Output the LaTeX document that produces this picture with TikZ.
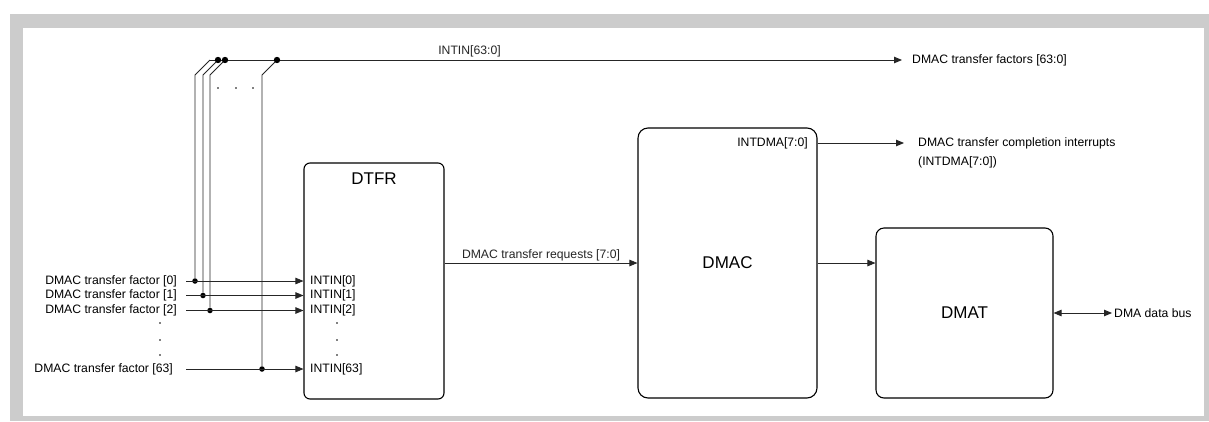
\documentclass[tikz,border=0pt]{standalone}
\usepackage{fontspec}
\setmainfont{Liberation Sans}
\usetikzlibrary{arrows.meta,positioning,calc}
\newcommand{\smallfs}{\fontsize{12.2}{14}\selectfont}
\newcommand{\bigfs}{\fontsize{17}{20}\selectfont}

\begin{document}
\begin{tikzpicture}[x=1pt,y=-1pt,>={Triangle[length=8pt,width=6.5pt]},
  blk/.style={draw,line width=1.1pt,inner sep=0pt},
  txt/.style={font=\smallfs,inner sep=0pt},
  wire/.style={line width=0.85pt,black!85},
  jdot/.style={circle,fill=black,inner sep=0pt,minimum size=5.5pt}]
  \useasboundingbox (0,0) rectangle (1209,421);
  \fill[black!20] (10,14) rectangle (1209,421);
  \fill[white] (23,28) rectangle (1204,416);
  % blocks
  \node[blk,rounded corners=6pt,minimum width=140pt,minimum height=236pt] (dtfr) at (374,281) {};
  \node[blk,rounded corners=10pt,minimum width=179pt,minimum height=270pt] (dmac) at (727.5,263) {};
  \node[blk,rounded corners=8pt,minimum width=177pt,minimum height=170pt] (dmat) at (964.5,313) {};
  \node[font=\bigfs,inner sep=0pt,below=10pt of dtfr.north] (dtfrlbl) {DTFR};
  \node[font=\bigfs,inner sep=0pt] (dmaclbl) at (dmac) {DMAC};
  \node[font=\bigfs,inner sep=0pt] (dmatlbl) at (dmat) {DMAT};
  % transfer factor inputs
  \node[txt,anchor=west] (fac) at (912,60) {DMAC transfer factors [63:0]};
  \coordinate (busL) at (210,60);
  \draw[wire,->] (busL) -- node[txt,pos=0.375,above=3pt] (buslbl) {INTIN[63:0]} ([xshift=-10pt]fac.west);
  \foreach \i/\y/\x/\e in {0/281/195/177,1/295.5/203/177,2/310.5/210/177,63/369/262/173}{
    \node[txt,anchor=east] (f\i) at (\e,\y) {DMAC transfer factor [\i]};
    \node[txt,anchor=west] (in\i) at (310,\y) {INTIN[\i]};
    \coordinate (s\i) at (186,\y);
    \node[jdot] (j\i) at (\x,\y) {};
    \draw[wire,->] (s\i) -- (in\i.west -| dtfr.west);
    \draw[wire] (j\i) -- (\x,75) -- (\x+15,60);
  }
  \foreach \x in {218,225,277}
    \fill (\x,60) circle (3.2pt);
  \foreach \y in {323,340,355}{
    \fill (160,\y) circle (0.9pt);
    \fill (337,\y) circle (0.9pt);
  }
  \foreach \x in {218,236,253}
    \fill (\x,88) circle (0.9pt);
  % requests and outputs
  \draw[wire,->] (dtfr.east |- dmac.west) -- node[txt,above=1.5pt] (reqlbl) {DMAC transfer requests [7:0]} (dmac.west);
  \node[txt,anchor=east] (intdma) at (808,143) {INTDMA[7:0]};
  \node[txt,anchor=west] (cmp) at (918,143) {DMAC transfer completion interrupts};
  \node[txt,anchor=west] (cmpb) at (918,162) {(INTDMA[7:0])};
  \draw[wire,->] (intdma -| dmac.east) -- ([xshift=-14pt]cmp.west);
  \draw[wire,->] (dmac.east) -- (dmac.east -| dmat.west);
  \node[txt,anchor=west] (dbus) at (1114,313) {DMA data bus};
  \draw[wire,<->] (dmat.east) -- ([xshift=-2pt]dbus.west);
\end{tikzpicture}
\end{document}
